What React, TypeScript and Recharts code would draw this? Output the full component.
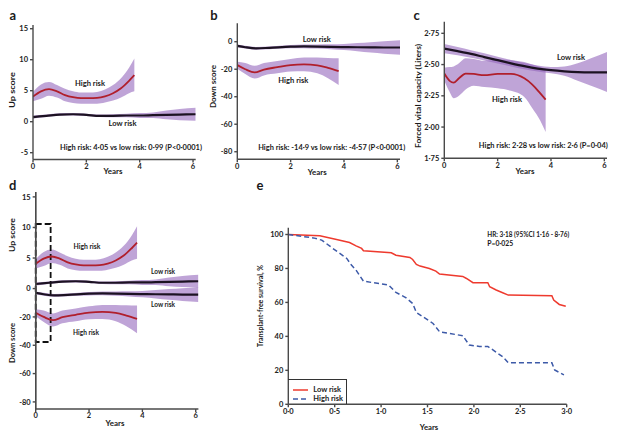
import React from 'react';
import { ComposedChart, Line, Area, XAxis, YAxis, ReferenceArea, Legend } from 'recharts';

const FONT = 'Lato, "Open Sans", sans-serif';
const W = 617;
const H = 438;
const XH = 20;
const YW = 0.01;

// a / d (upper): up score
const upHighYears = [0, 0.3, 0.6, 0.9, 1.2, 1.5, 1.8, 2.1, 2.4, 2.7, 3.0, 3.3, 3.6, 3.8];
const upHigh = [4.05, 4.9, 5.25, 4.9, 4.3, 3.95, 3.8, 3.8, 3.85, 4.1, 4.6, 5.4, 6.6, 7.5];
const upHighLo = [3.3, 3.7, 4.2, 3.9, 3.3, 3.0, 2.9, 2.9, 2.9, 3.1, 3.4, 3.9, 4.6, 4.9];
const upHighHi = [4.8, 6.0, 6.4, 5.9, 5.3, 4.9, 4.7, 4.7, 4.8, 5.2, 5.9, 7.0, 8.7, 10.2];
const upLowYears = [0, 0.5, 1, 1.5, 2, 2.5, 3, 3.5, 4, 4.5, 5, 5.5, 6.1];
const upLow = [0.75, 0.95, 1.15, 1.2, 1.1, 0.95, 0.95, 1.0, 1.0, 1.05, 1.1, 1.15, 1.2];
const upLowLo = [0.5, 0.75, 0.95, 1.0, 0.9, 0.75, 0.7, 0.7, 0.6, 0.6, 0.4, 0.25, 0.15];
const upLowHi = [1.0, 1.15, 1.35, 1.4, 1.3, 1.15, 1.2, 1.3, 1.4, 1.5, 1.8, 2.05, 2.25];

// b / d (lower): down score
const downHighYears = [0, 0.3, 0.65, 1.0, 1.5, 2.0, 2.5, 3.0, 3.4, 3.8];
const downHigh = [-17, -20, -22.3, -20.2, -18.5, -17, -16.5, -17.2, -19, -21.3];
const downHighLo = [-19.6, -23.5, -26.8, -24.5, -23, -21.6, -21.5, -23, -26.5, -31.5];
const downHighHi = [-14.5, -15.5, -17.5, -15.5, -14, -12.5, -11.5, -11.5, -11.8, -12];
const downLowYears = [0, 0.3, 0.7, 1.2, 2, 2.5, 3, 3.5, 4, 4.5, 5, 5.5, 6.1];
const downLow = [-3, -4, -4.8, -4.4, -3.6, -3.4, -3.5, -3.7, -3.9, -4.0, -4.1, -4.2, -4.2];
const downLowLo = [-4, -5, -5.8, -5.4, -4.8, -4.7, -5.0, -5.5, -6.1, -7.0, -7.9, -8.7, -9.5];
const downLowHi = [-2, -3, -3.8, -3.4, -2.4, -2.1, -2.0, -1.9, -1.7, -1.0, -0.3, 0.3, 1.0];

// c: forced vital capacity
const fvcHighYears = [0, 0.2, 0.35, 0.55, 0.8, 1.1, 1.5, 2.0, 2.5, 3.0, 3.3, 3.6, 3.8];
const fvcHigh = [2.428, 2.37, 2.355, 2.39, 2.428, 2.425, 2.415, 2.425, 2.425, 2.39, 2.34, 2.27, 2.22];
const fvcHighLo = [2.37, 2.28, 2.23, 2.25, 2.3, 2.33, 2.32, 2.31, 2.29, 2.24, 2.15, 2.05, 1.96];
const fvcHighHi = [2.475, 2.48, 2.485, 2.51, 2.55, 2.545, 2.53, 2.54, 2.535, 2.52, 2.5, 2.48, 2.47];
const fvcLowYears = [0, 0.5, 1, 1.5, 2, 2.5, 3, 3.5, 4, 4.5, 5, 5.5, 6.1];
const fvcLow = [2.628, 2.607, 2.585, 2.56, 2.535, 2.51, 2.487, 2.468, 2.455, 2.446, 2.44, 2.438, 2.438];
const fvcLowLo = [2.59, 2.575, 2.555, 2.533, 2.508, 2.485, 2.463, 2.445, 2.43, 2.41, 2.37, 2.33, 2.28];
const fvcLowHi = [2.665, 2.64, 2.615, 2.59, 2.562, 2.536, 2.512, 2.492, 2.48, 2.485, 2.51, 2.55, 2.6];

// e: Kaplan-Meier
const kmLowYears = [0, 0.34, 0.52, 0.66, 0.73, 0.79, 0.81, 1.11, 1.16, 1.31, 1.34, 1.38, 1.42, 1.52, 1.59, 1.63, 1.88, 1.92, 1.99, 2.15, 2.17, 2.24, 2.31, 2.37, 2.84, 2.86, 2.92, 2.99];
const kmLow = [100, 99.2, 97, 95.3, 93.3, 91.8, 90.4, 89.2, 87.8, 86.5, 85.3, 82.4, 81.4, 80, 78.4, 76.7, 75.3, 74.1, 71.6, 71.6, 69.2, 67.3, 65.7, 64.3, 63.9, 61.4, 58.8, 57.8];
const kmHighYears = [0, 0.27, 0.36, 0.48, 0.63, 0.68, 0.73, 0.81, 1.08, 1.16, 1.27, 1.34, 1.38, 1.45, 1.56, 1.63, 1.88, 1.95, 2.06, 2.15, 2.31, 2.37, 2.84, 2.87, 2.97];
const kmHigh = [100, 98, 96.7, 91.8, 85.9, 82, 79, 72.5, 70.2, 65.9, 62.7, 59.4, 54.1, 51.6, 47.6, 42.7, 40.4, 34.9, 34.1, 34.1, 28, 24.5, 24.5, 20.2, 17.3];
const kmOrder = ['Low risk', 'High risk'];

const trajTicks = [0, 2, 4, 6];
const upTicks = [-5, 0, 5, 10, 15];
const downTicks = [-80, -60, -40, -20, 0];
const fvcTicks = [1.75, 2.0, 2.25, 2.5, 2.75];
const kmXTicks = [0, 0.5, 1, 1.5, 2, 2.5, 3];
const kmYTicks = [0, 20, 40, 60, 80, 100];

const band = (t: number[], v: number[], lo: number[], hi: number[]) =>
  t.map((x, i) => ({ t: x, v: v[i], band: [lo[i], hi[i]] }));
const pts = (t: number[], v: number[]) => t.map((x, i) => ({ t: x, v: v[i] }));

const upHighRows = band(upHighYears, upHigh, upHighLo, upHighHi);
const upLowRows = band(upLowYears, upLow, upLowLo, upLowHi);
const downHighRows = band(downHighYears, downHigh, downHighLo, downHighHi);
const downLowRows = band(downLowYears, downLow, downLowLo, downLowHi);
const fvcHighRows = band(fvcHighYears, fvcHigh, fvcHighLo, fvcHighHi);
const fvcLowRows = band(fvcLowYears, fvcLow, fvcLowLo, fvcLowHi);
const kmLowRows = pts(kmLowYears, kmLow);
const kmHighRows = pts(kmHighYears, kmHigh);

const BAND = '#9567bd';
const HIGH = '#b01f2c';
const LOW = '#1c1222';

const axisLine = { stroke: '#4a4a4a', strokeWidth: 1.4 };
const tickText = { fontSize: 7.5, fill: '#222', fontFamily: FONT, fontWeight: 700 };
const dot = (v: number, n: number) => v.toFixed(n).replace('.', '·');

const frame = (x0: number, y0: number, x1: number, y1: number) => ({
  left: x0 - YW, top: y0, right: W - x1, bottom: H - y1 - XH,
});
const abs: React.CSSProperties = { position: 'absolute', left: 0, top: 0 };

const yearAxis = (max: number, ticks: number[], fmt?: (v: number) => string) => (
  <XAxis type="number" dataKey="t" domain={[0, max]} ticks={ticks} interval={0} allowDataOverflow
    height={XH} axisLine={axisLine} tickLine={axisLine} tickSize={3} tickMargin={1}
    tick={tickText} tickFormatter={fmt} />
);

const valueAxis = (id: string, domain: number[], ticks: number[], fmt?: (v: number) => string) => (
  <YAxis yAxisId={id} type="number" width={YW} domain={domain} ticks={ticks} interval={0} allowDataOverflow
    axisLine={axisLine} tickLine={axisLine} tickSize={3} tickMargin={2} tick={tickText} tickFormatter={fmt} />
);

const series = (rows: { t: number; v: number }[], color: string, id: string, key: string, width: number) => (
  <Line key={key} yAxisId={id} data={rows} dataKey="v" type="monotone" stroke={color} strokeWidth={width}
    dot={false} activeDot={false} isAnimationActive={false} />
);
const ribbon = (rows: any[], id: string, key: string) => (
  <Area key={key} yAxisId={id} data={rows} dataKey="band" type="monotone" stroke="none" fill={BAND}
    fillOpacity={0.6} isAnimationActive={false} />
);

type TrajProps = {
  rect: [number, number, number, number];
  domain: number[];
  ticks: number[];
  fmt?: (v: number) => string;
  high: any[];
  low: any[];
};

function Trajectory({ rect, domain, ticks, fmt, high, low }: TrajProps) {
  return (
    <div style={abs}>
      <ComposedChart width={W} height={H} margin={frame(...rect)}>
        {yearAxis(6.1, trajTicks)}
        {valueAxis('y', domain, ticks, fmt)}
        {ribbon(high, 'y', 'hb')}
        {ribbon(low, 'y', 'lb')}
        {series(high, HIGH, 'y', 'hl', 1.8)}
        {series(low, LOW, 'y', 'll', 2.2)}
      </ComposedChart>
    </div>
  );
}

const kmLegend = ({ payload }: any) => {
  const items = [...(payload ?? [])].sort((p: any, q: any) => kmOrder.indexOf(p.value) - kmOrder.indexOf(q.value));
  return (
    <div style={{
      width: '100%', height: '100%', boxSizing: 'border-box', borderTop: '1px solid #333',
      borderRight: '1px solid #333', padding: '5px 0 0 5px',
    }}>
      {items.map((e: any) => (
        <div key={e.value} style={{ display: 'flex', alignItems: 'center', height: 9, font: `700 7.5px ${FONT}`, color: '#222' }}>
          <svg width={15} height={4} style={{ marginRight: 5 }}>
            <line x1={0} y1={2} x2={15} y2={2} stroke={e.color} strokeWidth={1.5}
              strokeDasharray={e.value === 'High risk' ? '5 3' : undefined} />
          </svg>
          {e.value}
        </div>
      ))}
    </div>
  );
};

const T = ({ x, y, s = 7.8, w = 700, a = 'middle', r, len, children }: any) => (
  <text x={x} y={y} fontSize={s} fontWeight={w} textAnchor={a} dominantBaseline="central"
    fontFamily={FONT} fill="#1a1a1a" transform={r ? `rotate(-90 ${x} ${y})` : undefined}
    textLength={len} lengthAdjust={len ? 'spacingAndGlyphs' : undefined}>
    {children}
  </text>
);

export default function App() {
  return (
    <div style={{ position: 'absolute', left: 0, top: 0, width: W, height: H, background: '#fff' }}>
      <Trajectory rect={[33, 25, 195.7, 159.5]} domain={[-6.1, 15.6]} ticks={upTicks} high={upHighRows} low={upLowRows} />
      <Trajectory rect={[237.3, 23.3, 400, 159.3]} domain={[-85.5, 13.4]} ticks={downTicks} high={downHighRows} low={downLowRows} />
      <Trajectory rect={[444.3, 21.7, 607, 158.3]} domain={[1.75, 2.843]} ticks={fvcTicks} fmt={(v) => dot(v, 2)}
        high={fvcHighRows} low={fvcLowRows} />

      <div style={abs}>
        <ComposedChart width={W} height={H} margin={{ ...frame(35.7, 192, 198.4, 409), left: 35.7 - 2 * YW }}>
          {yearAxis(6.1, trajTicks)}
          {valueAxis('up', [-19.7, 15.8], [0, 5, 10, 15])}
          {valueAxis('down', [-85, 68.2], [-80, -60, -40, -20])}
          {ribbon(upHighRows, 'up', 'uhb')}
          {ribbon(upLowRows, 'up', 'ulb')}
          {ribbon(downHighRows, 'down', 'dhb')}
          {ribbon(downLowRows, 'down', 'dlb')}
          {series(upHighRows, HIGH, 'up', 'uhl', 1.8)}
          {series(upLowRows, LOW, 'up', 'ull', 2.2)}
          {series(downHighRows, HIGH, 'down', 'dhl', 1.8)}
          {series(downLowRows, LOW, 'down', 'dll', 2.2)}
          <ReferenceArea yAxisId="down" x1={0} x2={0.56} y1={-37.7} y2={45.6} fill="none"
            stroke="#111" strokeWidth={1.8} strokeDasharray="6 3" ifOverflow="visible" />
        </ComposedChart>
      </div>

      <div style={abs}>
        <ComposedChart width={W} height={H} margin={frame(288.3, 227.7, 566.7, 404.3)}>
          {yearAxis(3, kmXTicks, (v) => dot(v, 1))}
          {valueAxis('km', [0, 104], kmYTicks)}
          <Line yAxisId="km" data={kmLowRows} dataKey="v" name="Low risk" type="linear" stroke="#ee3a2e"
            strokeWidth={1.5} dot={false} activeDot={false} isAnimationActive={false} />
          <Line yAxisId="km" data={kmHighRows} dataKey="v" name="High risk" type="linear" stroke="#3d5aa8"
            strokeWidth={1.5} strokeDasharray="5 3" dot={false} activeDot={false} isAnimationActive={false} />
          <Legend layout="vertical" align="center" verticalAlign="middle" content={kmLegend}
            wrapperStyle={{ position: 'absolute', left: 288.3, top: 379, width: 59, height: 25.3 }} />
        </ComposedChart>
      </div>

      <svg width={W} height={H} style={{ ...abs, pointerEvents: 'none' }}>
        <T x={12.7} y={15} s={13}>a</T>
        <T x={214} y={15} s={13}>b</T>
        <T x={416.7} y={15} s={13}>c</T>
        <T x={12.7} y={185} s={13}>d</T>
        <T x={260} y={185} s={13}>e</T>

        <T x={11.7} y={90} r len={36}>Up score</T>
        <T x={90} y={83} len={30}>High risk</T>
        <T x={122.5} y={122.7} len={28}>Low risk</T>
        <T x={131} y={146.7} len={142}>High risk: 4·05 vs low risk: 0·99 (P&lt;0·0001)</T>
        <T x={113} y={170.7} len={19}>Years</T>

        <T x={213.3} y={86.5} r len={43}>Down score</T>
        <T x={316.8} y={39} len={28}>Low risk</T>
        <T x={293.3} y={80} len={30}>High risk</T>
        <T x={331.7} y={146.7} len={147}>High risk: -14·9 vs low risk: -4·57 (P&lt;0·0001)</T>
        <T x={317.3} y={171.7} len={19}>Years</T>

        <T x={418.3} y={96} r len={104}>Forced vital capacity (Liters)</T>
        <T x={571} y={57.3} len={28}>Low risk</T>
        <T x={507} y={99} len={30}>High risk</T>
        <T x={543.3} y={145} len={129}>High risk: 2·28 vs low risk: 2·6 (P=0·04)</T>
        <T x={525} y={171} len={19}>Years</T>

        <T x={11.7} y={235} r len={34}>Up score</T>
        <T x={12} y={343} r len={40}>Down score</T>
        <T x={87} y={246.3} s={7.2} len={27}>High risk</T>
        <T x={163} y={271} s={7.2} len={24}>Low risk</T>
        <T x={163} y={304.3} s={7.2} len={24}>Low risk</T>
        <T x={86} y={332.7} s={7.2} len={26}>High risk</T>
        <T x={115} y={423.3} len={19}>Years</T>

        <T x={260} y={306} r len={82}>Transplant-free survival, %</T>
        <T x={487.3} y={234.3} a="start" s={7.5} len={82}>HR: 3·18 (95%CI 1·16 - 8·76)</T>
        <T x={487.3} y={243.3} a="start" s={7.5} len={26}>P=0·025</T>
        <T x={429} y={426.7} len={18.5}>Years</T>
      </svg>
    </div>
  );
}
